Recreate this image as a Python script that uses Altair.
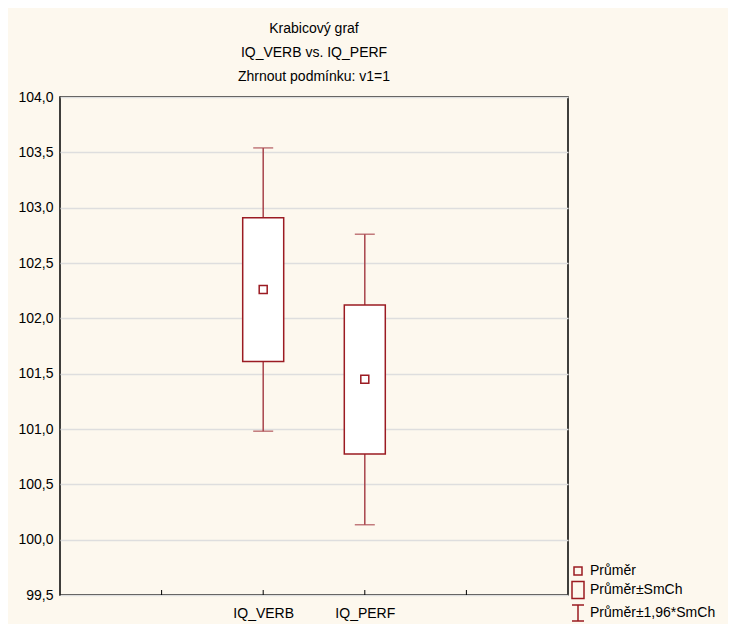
import altair as alt
import pandas as pd

# ---- data ----
categories = ["IQ_VERB", "IQ_PERF"]
means = [102.26, 101.45]
box_low = [101.61, 100.775]
box_high = [102.91, 102.12]
whisker_low = [100.98, 100.135]
whisker_high = [103.54, 102.76]

x_slots = [" ", "  ", "IQ_VERB", "IQ_PERF", "   ", "    "]
tick_slots = ["  ", "IQ_VERB", "IQ_PERF", "   "]
y_ticks = [99.5, 100.0, 100.5, 101.0, 101.5, 102.0, 102.5, 103.0, 103.5, 104.0]
legend_labels = ["Průměr", "Průměr±SmCh", "Průměr±1,96*SmCh"]
legend_paths = [
    "M-0.5,-0.5H0.5V0.5H-0.5Z",
    "M-0.75,-1.05H0.75V1.05H-0.75Z",
    "M-0.75,-1H0.75M0,-1V1M-0.75,1H0.75",
]

W, H = 508, 498
FONT = "Liberation Sans, Arial"
BOX_C = "#9b1b22"
WHISK_C = "#a8444b"

df = pd.DataFrame(dict(cat=categories, mean=means, lo=box_low, hi=box_high,
                       wlo=whisker_low, whi=whisker_high))
ticks_df = pd.DataFrame(dict(cat=tick_slots))
legend_df = pd.DataFrame(dict(label=legend_labels))

x_enc = alt.X("cat:N", scale=alt.Scale(type="point", domain=x_slots, padding=0),
              axis=alt.Axis(title=None, ticks=False, domain=False, labelAngle=0,
                            labelPadding=11, labelFontSize=14, labelFont=FONT,
                            labelColor="black", grid=False))
y_scale = alt.Scale(domain=[99.5, 104.0], nice=False, zero=False)
y_axis = alt.Axis(title=None, values=y_ticks,
                  labelExpr="replace(format(datum.value, '.1f'), '.', ',')",
                  grid=True, gridColor="#dedede", gridWidth=1.5, ticks=False,
                  domain=False, labelFontSize=14, labelFont=FONT, labelColor="black",
                  labelPadding=7)

base = alt.Chart(df)

upper = base.mark_rule(color=WHISK_C, strokeWidth=1.5).encode(
    x=x_enc, y=alt.Y("hi:Q", scale=y_scale, axis=y_axis), y2="whi:Q")
lower = base.mark_rule(color=WHISK_C, strokeWidth=1.5).encode(
    x=x_enc, y=alt.Y("wlo:Q", scale=y_scale, axis=y_axis), y2="lo:Q")
cap_top = base.mark_tick(color=WHISK_C, size=20, thickness=1.5).encode(
    x=x_enc, y=alt.Y("whi:Q", scale=y_scale, axis=y_axis))
cap_bot = base.mark_tick(color=WHISK_C, size=20, thickness=1.5).encode(
    x=x_enc, y=alt.Y("wlo:Q", scale=y_scale, axis=y_axis))
box = base.mark_bar(size=41, fill="white", stroke=BOX_C, strokeWidth=1.5).encode(
    x=x_enc, y=alt.Y("lo:Q", scale=y_scale, axis=y_axis), y2="hi:Q")
mean_pt = base.mark_square(size=64, filled=False, color=BOX_C, strokeWidth=1.5, opacity=1).encode(
    x=x_enc, y=alt.Y("mean:Q", scale=y_scale, axis=y_axis))

xticks = alt.Chart(ticks_df).mark_rule(color="black", strokeWidth=1).encode(
    x=x_enc, y=alt.value(H), y2=alt.value(H - 5))

legend_layer = alt.Chart(legend_df).mark_point(opacity=0).encode(
    shape=alt.Shape("label:N",
                    scale=alt.Scale(domain=legend_labels, range=legend_paths),
                    legend=alt.Legend(title=None, orient="none", legendX=509, legendY=465,
                                      symbolSize=256, symbolStrokeColor=BOX_C,
                                      symbolFillColor="transparent", symbolStrokeWidth=1.5,
                                      symbolOpacity=1, labelFontSize=14, labelFont=FONT,
                                      labelColor="black", rowPadding=0, labelOffset=3,
                                      padding=0, labelLimit=300)))

chart = alt.layer(upper, lower, cap_top, cap_bot, box, mean_pt, xticks, legend_layer).properties(
    width=W, height=H,
    title=alt.TitleParams(["Krabicový graf", "IQ_VERB vs. IQ_PERF", "Zhrnout podmínku: v1=1"],
                          fontSize=14, fontWeight="normal", font=FONT, color="black",
                          lineHeight=24, anchor="middle", frame="group", offset=6),
    autosize=alt.AutoSizeParams(type="none"),
    padding={"left": 52, "top": 89, "right": 160, "bottom": 29},
).configure(background="#fdf8ee").configure_view(
    stroke="black", strokeWidth=1.5, fill="white")

chart.save("out.html", embed_options={"renderer": "svg", "actions": False})
